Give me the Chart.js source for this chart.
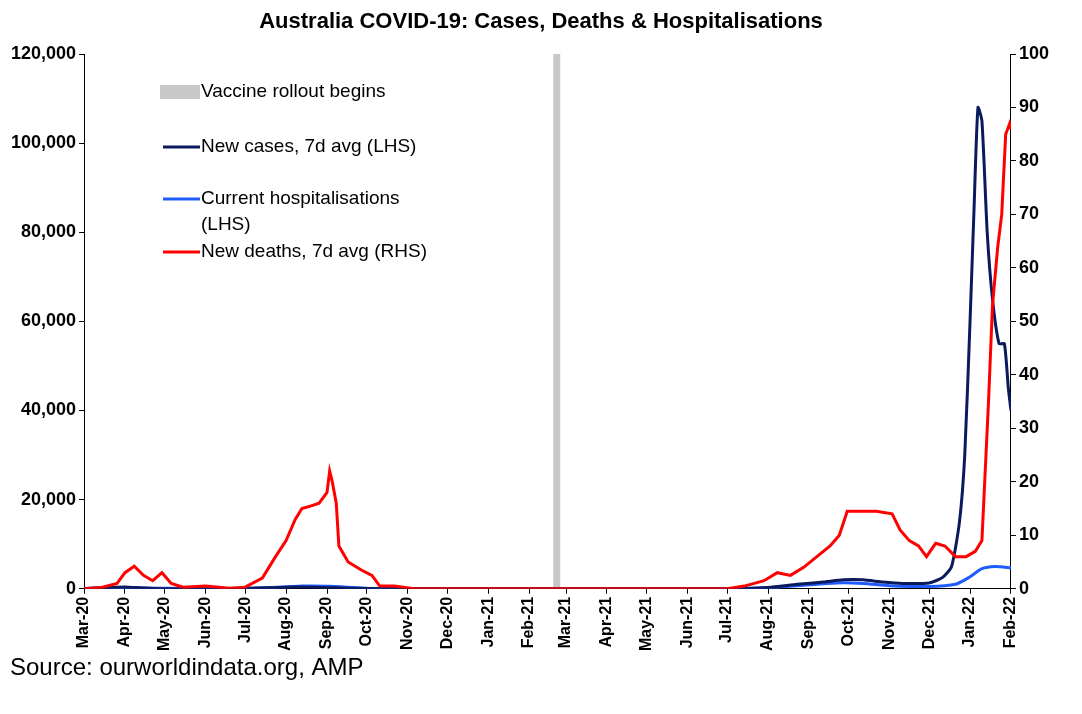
<!DOCTYPE html>
<html><head><meta charset="utf-8">
<script src="https://cdn.jsdelivr.net/npm/chart.js@4"></script>
<style>body{margin:0;background:#fff}</style>
</head><body><canvas id="c" width="1082" height="714"></canvas>
<script>
// x values are days since 1 Mar 2020
var monthLabels = ["Mar-20","Apr-20","May-20","Jun-20","Jul-20","Aug-20","Sep-20","Oct-20","Nov-20","Dec-20","Jan-21","Feb-21","Mar-21","Apr-21","May-21","Jun-21","Jul-21","Aug-21","Sep-21","Oct-21","Nov-21","Dec-21","Jan-22","Feb-22"];
var monthDays = [0,31,61,92,122,153,184,214,245,275,306,337,365,396,426,457,487,518,549,579,610,640,671,702];
var vaccineDay = 358;

var deathDays = [0,14,25,31,38,45,52,59,66,75,92,110,122,135,145,153,160,165,172,178,184,186,188,191,193,200,210,218,224,235,250,487,500,515,525,535,545,555,565,572,578,590,600,612,618,625,632,638,645,652,660,668,675,680,685,688,692,695,698,701,702];
var deathVals = [0,0.3,1,3,4.2,2.5,1.5,3,1,0.3,0.5,0.1,0.3,2,6,9,13,15,15.5,16,18,22,20,16,8,5,3.5,2.5,0.5,0.5,0,0,0.5,1.5,3,2.5,4,6,8,10,14.5,14.5,14.5,14,11,9,8,6,8.5,8,6,6,7,9,35,53,64,70,85,87,86];

var caseDays = [0,20,31,45,60,100,140,160,180,200,230,300,487,518,540,560,575,590,605,620,640,650,657,663,667,671,674,677,680,684,688,693,697,700,702];
var caseVals = [50,300,400,150,20,20,200,400,300,100,20,10,20,300,1000,1500,2000,2000,1500,1200,1300,2500,5000,15000,30000,60000,85000,108000,105000,80000,65000,55000,55000,45000,40000];

var hospDays = [0,31,60,122,165,185,220,300,487,518,545,570,590,610,640,660,670,680,690,702];
var hospVals = [20,300,100,30,600,550,50,10,10,200,800,1300,1200,700,500,1000,2500,4500,5000,4700];

function pts(d,v){return d.map(function(x,i){return {x:x,y:v[i]};});}

var overlay = {
  id:'overlay',
  beforeDatasetsDraw:function(ch){
    var c=ch.ctx,a=ch.chartArea,x=ch.scales.x.getPixelForValue(vaccineDay);
    c.save();c.fillStyle='#c8c8c8';c.fillRect(x-3.5,a.top,7,a.bottom-a.top);c.restore();
  },
  afterDraw:function(ch){
    var c=ch.ctx;c.save();
    c.fillStyle='#000';c.font='bold 22px "Liberation Sans", Arial';c.textAlign='center';c.textBaseline='middle';
    c.fillText('Australia COVID-19: Cases, Deaths & Hospitalisations',541,22);
    c.font='24px "Liberation Sans", Arial';c.textAlign='left';
    c.fillText('Source: ourworldindata.org, AMP',10,668);
    c.font='19px "Liberation Sans", Arial';
    c.fillStyle='#c8c8c8';c.fillRect(160,85,40,14);
    var items=[['#0a1a5c',147,['New cases, 7d avg (LHS)']],['#1f5cff',199,['Current hospitalisations','(LHS)']],['#ff0000',252,['New deaths, 7d avg (RHS)']]];
    c.fillStyle='#000';c.fillText('Vaccine rollout begins',201,92);
    items.forEach(function(it){
      c.strokeStyle=it[0];c.lineWidth=3;c.beginPath();c.moveTo(163,it[1]);c.lineTo(200,it[1]);c.stroke();
      it[2].forEach(function(t,i){c.fillStyle='#000';c.fillText(t,201,it[1]+i*26);});
    });
    c.restore();
  }
};

new Chart(document.getElementById('c'),{
  type:'line',
  data:{datasets:[
    {label:'New deaths',data:pts(deathDays,deathVals),yAxisID:'y2',borderColor:'#ff0000',borderWidth:3,pointRadius:0,tension:0},
    {label:'New cases',data:pts(caseDays,caseVals),yAxisID:'y',borderColor:'#0a1a5c',borderWidth:3,pointRadius:0,tension:0.2},
    {label:'Hospitalisations',data:pts(hospDays,hospVals),yAxisID:'y',borderColor:'#1f5cff',borderWidth:3,pointRadius:0,tension:0.2}
  ]},
  options:{
    responsive:false,animation:false,
    layout:{padding:{top:54,left:8,right:30,bottom:60}},
    plugins:{legend:{display:false},tooltip:{enabled:false}},
    scales:{
      x:{type:'linear',min:0,max:702,
        afterBuildTicks:function(s){s.ticks=monthDays.map(function(d){return {value:d};});},
        ticks:{autoSkip:false,minRotation:90,maxRotation:90,color:'#000',font:{family:'"Liberation Sans", Arial',size:16,weight:'bold'},
          callback:function(v){var i=monthDays.indexOf(v);return i<0?'':monthLabels[i];}},
        grid:{drawOnChartArea:false,color:'#000',tickLength:5},border:{color:'#000',width:1}},
      y:{position:'left',min:0,max:120000,ticks:{stepSize:20000,color:'#000',font:{family:'"Liberation Sans", Arial',size:18,weight:'bold'},
          callback:function(v){return v.toLocaleString('en-US');}},
        grid:{drawOnChartArea:false,color:'#000',tickLength:5},border:{color:'#000'}},
      y2:{position:'right',min:0,max:100,ticks:{stepSize:10,color:'#000',font:{family:'"Liberation Sans", Arial',size:18,weight:'bold'}},
        grid:{drawOnChartArea:false,color:'#000',tickLength:5},border:{color:'#000'}}
    }
  },
  plugins:[overlay]
});
</script></body></html>
